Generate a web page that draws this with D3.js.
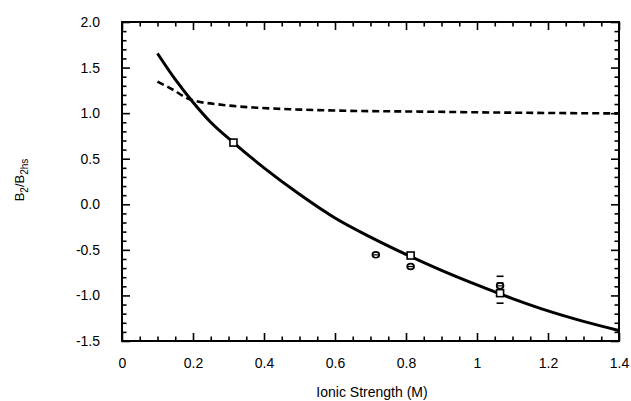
<!DOCTYPE html>
<html><head><meta charset="utf-8">
<script src="https://cdn.jsdelivr.net/npm/d3@7"></script>
<style>body{margin:0;background:#fff}svg{display:block}text{font-family:"Liberation Sans",Arial,sans-serif;fill:#000}</style>
</head><body><svg id="c" width="631" height="401"></svg>
<script>
// Data
const solidX = [0.10, 0.15, 0.20, 0.25, 0.314, 0.40, 0.50, 0.60, 0.70, 0.80, 0.90, 1.00, 1.10, 1.20, 1.30, 1.40];
const solidY = [1.655, 1.37, 1.12, 0.90, 0.677, 0.40, 0.11, -0.15, -0.36, -0.55, -0.725, -0.885, -1.035, -1.17, -1.285, -1.385];
const dashX = [0.10, 0.145, 0.19, 0.285, 0.379, 0.473, 0.605, 0.839, 1.10, 1.40];
const dashY = [1.345, 1.254, 1.152, 1.09, 1.06, 1.043, 1.028, 1.017, 1.005, 0.997];
const squareX = [0.314, 0.813, 1.065];
const squareY = [0.677, -0.562, -0.975];
const squareErr = [0, 0, 0.11];
const circleX = [0.715, 0.813, 1.065];
const circleY = [-0.555, -0.683, -0.895];
const circleErr = [0, 0, 0.105];
const xTicks = [0, 0.2, 0.4, 0.6, 0.8, 1, 1.2, 1.4];
const xTickLabels = ["0", "0.2", "0.4", "0.6", "0.8", "1", "1.2", "1.4"];
const yTicks = [-1.5, -1.0, -0.5, 0.0, 0.5, 1.0, 1.5, 2.0];
const yTickLabels = ["-1.5", "-1.0", "-0.5", "0.0", "0.5", "1.0", "1.5", "2.0"];

const svg = d3.select("#c");
const L = 122, R = 619, T = 22, B = 341;
const x = d3.scaleLinear().domain([0, 1.4]).range([L, R]);
const y = d3.scaleLinear().domain([-1.5, 2.0]).range([B, T]);

// minor ticks
const xMinor = d3.range(0, 1.4001, 0.05).filter(v => !xTicks.some(t => Math.abs(t - v) < 1e-6));
const yMinor = d3.range(-1.5, 2.0001, 0.1).filter(v => !yTicks.some(t => Math.abs(t - v) < 1e-6));

function axisG(axis, tr) {
  const g = svg.append("g").attr("transform", tr).call(axis);
  g.select(".domain").remove();
  g.selectAll("line").attr("stroke", "#000").attr("stroke-width", 1.6);
  return g;
}
const gb = axisG(d3.axisBottom(x).tickValues(xTicks).tickSize(-8).tickPadding(17).tickFormat((d, i) => xTickLabels[i]), `translate(0,${B})`);
gb.selectAll("text").attr("font-size", 14).style("font-family", '"Liberation Sans",Arial,sans-serif');
axisG(d3.axisBottom(x).tickValues(xMinor).tickSize(-4.5).tickFormat(""), `translate(0,${B})`);
axisG(d3.axisTop(x).tickValues(xTicks).tickSize(-8).tickFormat(""), `translate(0,${T})`);
axisG(d3.axisTop(x).tickValues(xMinor).tickSize(-4.5).tickFormat(""), `translate(0,${T})`);
const gl = axisG(d3.axisLeft(y).tickValues(yTicks).tickSize(-8).tickPadding(22).tickFormat((d, i) => yTickLabels[i]), `translate(${L},0)`);
gl.selectAll("text").attr("font-size", 14).style("font-family", '"Liberation Sans",Arial,sans-serif');
axisG(d3.axisLeft(y).tickValues(yMinor).tickSize(-4.5).tickFormat(""), `translate(${L},0)`);
axisG(d3.axisRight(y).tickValues(yTicks).tickSize(-8).tickFormat(""), `translate(${R},0)`);
axisG(d3.axisRight(y).tickValues(yMinor).tickSize(-4.5).tickFormat(""), `translate(${R},0)`);

// frame
svg.append("rect").attr("x", L).attr("y", T).attr("width", R - L).attr("height", B - T)
  .attr("fill", "none").attr("stroke", "#000").attr("stroke-width", 2);

// curves
const line = d3.line().x(d => x(d[0])).y(d => y(d[1])).curve(d3.curveMonotoneX);
svg.append("path").datum(solidX.map((v, i) => [v, solidY[i]])).attr("d", line)
  .attr("fill", "none").attr("stroke", "#000").attr("stroke-width", 3);
svg.append("path").datum(dashX.map((v, i) => [v, dashY[i]])).attr("d", line)
  .attr("fill", "none").attr("stroke", "#000").attr("stroke-width", 2.6).attr("stroke-dasharray", "7,4");

// error bar caps
function caps(xs, ys, es) {
  xs.forEach((v, i) => {
    if (es[i] > 0) {
      [ys[i] + es[i], ys[i] - es[i]].forEach(yy => {
        svg.append("line").attr("x1", x(v) - 3.5).attr("x2", x(v) + 3.5)
          .attr("y1", y(yy)).attr("y2", y(yy)).attr("stroke", "#000").attr("stroke-width", 1.6);
      });
    }
  });
}
caps(circleX, circleY, circleErr);
caps(squareX, squareY, squareErr);

// markers
svg.selectAll(".sq").data(squareX.map((v, i) => [v, squareY[i]])).enter().append("rect")
  .attr("x", d => x(d[0]) - 3.5).attr("y", d => y(d[1]) - 3.5).attr("width", 7).attr("height", 7)
  .attr("fill", "#fff").attr("stroke", "#000").attr("stroke-width", 1.6);
svg.selectAll(".ci").data(circleX.map((v, i) => [v, circleY[i]])).enter().append("ellipse")
  .attr("cx", d => x(d[0])).attr("cy", d => y(d[1])).attr("rx", 3.4).attr("ry", 2.9)
  .attr("fill", "#fff").attr("stroke", "#000").attr("stroke-width", 1.7);
svg.selectAll(".cl").data(circleX.map((v, i) => [v, circleY[i]])).enter().append("line")
  .attr("x1", d => x(d[0]) - 2.8).attr("x2", d => x(d[0]) + 2.8)
  .attr("y1", d => y(d[1])).attr("y2", d => y(d[1])).attr("stroke", "#000").attr("stroke-width", 1.2);

// axis titles
svg.append("text").attr("x", 372).attr("y", 397).attr("text-anchor", "middle").attr("font-size", 14)
  .text("Ionic Strength (M)");
const yt = svg.append("text").attr("transform", "translate(24,180) rotate(-90)").attr("text-anchor", "middle").attr("font-size", 13);
yt.append("tspan").text("B");
yt.append("tspan").attr("font-size", 10).attr("dy", 4).text("2");
yt.append("tspan").attr("dy", -4).text("/B");
yt.append("tspan").attr("font-size", 10).attr("dy", 4).text("2hs");
</script></body></html>
